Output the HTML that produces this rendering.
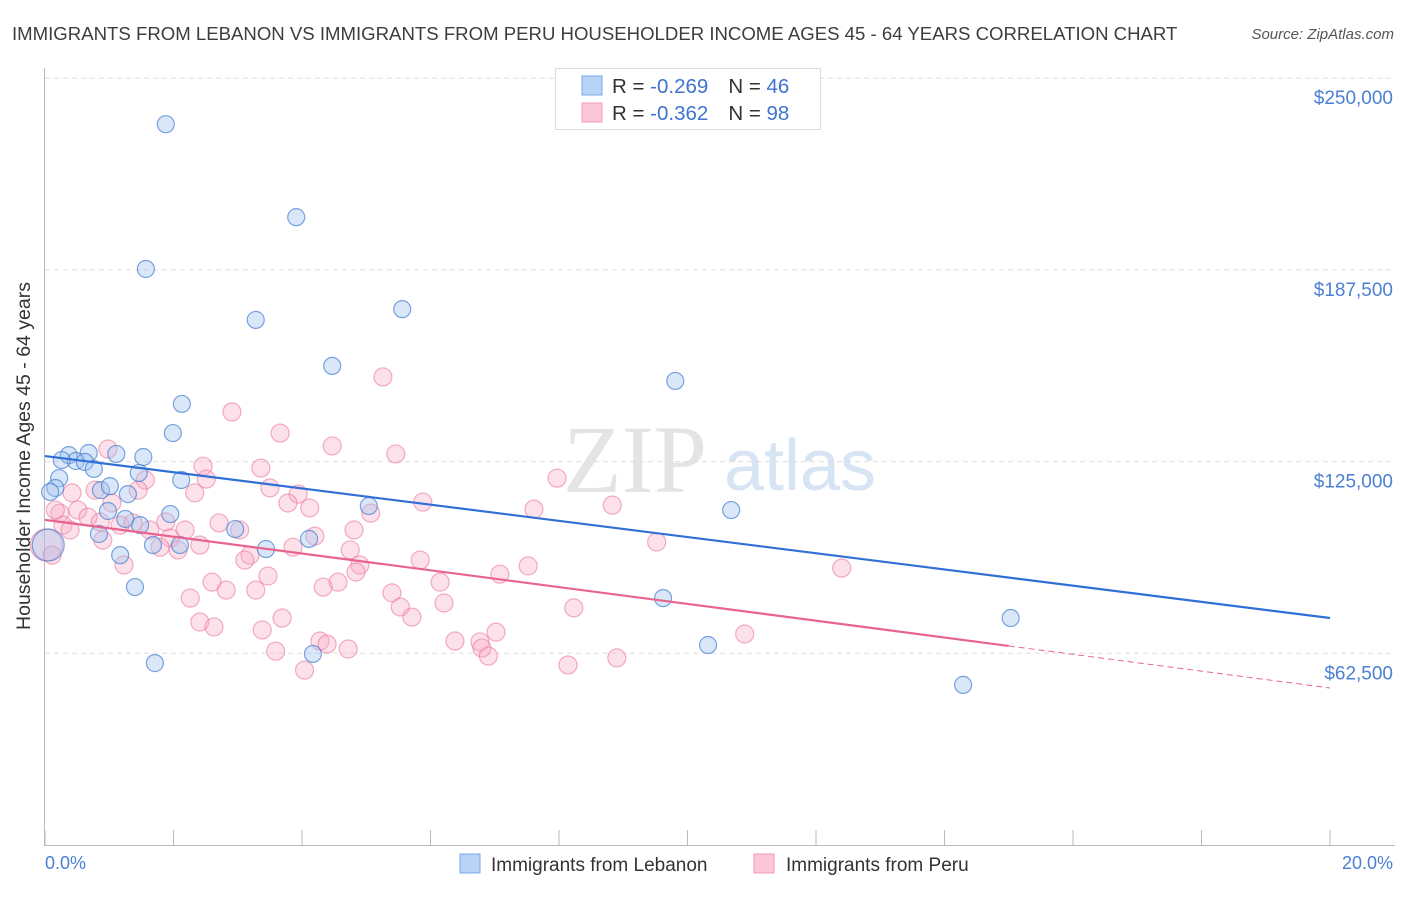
<!DOCTYPE html>
<html><head><meta charset="utf-8"><style>
body{margin:0;background:#fff;width:1406px;height:892px;overflow:hidden;font-family:"Liberation Sans",sans-serif}
</style></head><body>
<svg id="c" width="1406" height="892" xmlns="http://www.w3.org/2000/svg">
<text x="12" y="40" font-size="18.6" fill="#3d3d3d">IMMIGRANTS FROM LEBANON VS IMMIGRANTS FROM PERU HOUSEHOLDER INCOME AGES 45 - 64 YEARS CORRELATION CHART</text>
<text x="1394" y="39" font-size="15" fill="#555" font-style="italic" text-anchor="end">Source: ZipAtlas.com</text>
<g>
<text x="635" y="492" font-family="Liberation Serif,serif" font-size="96" fill="#e4e4e4" text-anchor="middle">ZIP</text>
<text x="800" y="490" font-size="72" fill="#d6e4f4" text-anchor="middle">atlas</text>
</g>
<g id="grid"></g><g id="axes"></g><g id="pts"></g><g id="lines"></g>
<text x="30" y="456" font-size="19.5" fill="#333" text-anchor="middle" transform="rotate(-90 30 456)">Householder Income Ages 45 - 64 years</text>
<text x="45" y="869" font-size="18" fill="#4a7fd4">0.0%</text>
<text x="1393" y="869" font-size="18" fill="#4a7fd4" text-anchor="end">20.0%</text>
<g>
<rect x="555.5" y="68.5" width="265" height="61" fill="#fff" stroke="#ddd"/>
<rect x="582" y="76" width="20" height="19" fill="#b8d3f5" stroke="#7aa7e6"/>
<rect x="582" y="103" width="20" height="19" fill="#fcc8d8" stroke="#f09ab5"/>
<text x="612" y="93" font-size="20.5" fill="#333">R = <tspan fill="#3d74d0">-0.269</tspan><tspan dx="20">N = </tspan><tspan fill="#3d74d0">46</tspan></text>
<text x="612" y="120" font-size="20.5" fill="#333">R = <tspan fill="#3d74d0">-0.362</tspan><tspan dx="20">N = </tspan><tspan fill="#3d74d0">98</tspan></text>
</g>
<g>
<rect x="460" y="854" width="20" height="19" fill="#b8d3f5" stroke="#7aa7e6"/>
<text x="491" y="871" font-size="19" fill="#333">Immigrants from Lebanon</text>
<rect x="754" y="854" width="20" height="19" fill="#fcc8d8" stroke="#f09ab5"/>
<text x="786" y="871" font-size="19" fill="#333">Immigrants from Peru</text>
</g>
</svg>
<script>
const yTicks=[62500,125000,187500,250000];
const yTickLabels=["$62,500","$125,000","$187,500","$250,000"];
const lebX=[1.88,3.91,1.57,3.28,5.56,4.47,9.81,2.13,1.99,0.37,0.68,0.48,0.62,0.76,1.53,1.11,0.22,0.16,0.08,0.87,1.01,1.29,1.46,2.12,0.98,1.25,0.84,1.95,2.96,5.04,10.68,1.68,2.10,1.17,3.44,4.11,1.40,9.62,15.03,10.32,4.17,1.71,14.29,0.05,0.26,1.48];
const lebY=[235000,204700,187800,171200,174700,156200,151300,143800,134300,127100,127800,125200,124900,122600,126500,127500,119600,116400,115100,115700,117000,114400,121300,119000,108900,106300,101400,107900,103000,110500,109200,97800,97800,94500,96500,99800,84100,80500,74000,65200,62300,59300,52200,97800,125500,104300];
const peruX=[5.26,2.91,3.66,4.47,5.46,0.98,2.46,3.36,7.97,2.51,1.56,1.45,2.33,3.50,3.94,3.78,0.42,0.78,5.88,8.83,4.12,5.07,7.61,0.23,0.51,0.67,0.86,1.17,1.37,1.88,2.71,2.18,3.03,4.81,0.28,4.20,1.95,0.90,9.52,1.79,2.07,3.86,4.75,3.19,3.11,5.84,4.90,7.52,12.40,1.23,4.84,7.08,3.47,4.56,2.60,6.15,2.82,3.28,5.40,4.33,2.26,6.21,8.23,5.53,3.69,2.41,5.71,2.63,3.38,7.02,10.89,4.28,6.77,6.38,4.39,6.80,4.72,3.59,8.90,6.90,4.04,8.14,0.02,0.11,0.16,0.39,1.63,1.04,2.41];
const peruY=[152600,141200,134300,130100,127500,129100,123500,122900,119600,119300,119000,115700,114800,116400,114400,111500,114800,115700,111800,110800,109900,108200,109500,108200,109200,106900,105300,104300,105000,105300,105000,102700,102700,102700,104300,100700,100100,99400,98800,97100,96200,97100,96200,94500,92900,92900,91300,91000,90300,91300,89000,88300,87700,85700,85700,85700,83100,83100,82200,84100,80500,78900,77300,77600,74000,72700,74300,71100,70100,69400,68800,66500,66200,66500,65500,64200,63900,63200,61000,61600,57000,58700,97800,94500,109200,102700,102700,111500,97800];
const lebTrend=[126800,74000];
const peruTrend=[106000,64900,51200];
const peruSolidEnd=15.0;
const X=v=>45+v/20*1285, Y=v=>845-v/62500*191.7;
const NS="http://www.w3.org/2000/svg";
function mk(p,t,a){const e=document.createElementNS(NS,t);for(const k in a)e.setAttribute(k,a[k]);p.appendChild(e);return e;}
const grid=document.getElementById('grid'),axes=document.getElementById('axes'),pts=document.getElementById('pts'),lines=document.getElementById('lines');
yTicks.forEach((v,i)=>{
 const l=mk(grid,'line',{x1:45,x2:1395,y1:Y(v),y2:Y(v),stroke:'#ddd','stroke-dasharray':'5,4'});
 
 
 const t=mk(grid,'text',{x:1393,y:Y(v)+26,'font-size':19,fill:'#4a7fd4','text-anchor':'end'});
 t.textContent=yTickLabels[i];
 
 
});
const ya=mk(axes,'line',{x1:44.5,x2:44.5,y1:68,y2:845,stroke:'#bbb'});


const xa=mk(axes,'line',{x1:44,x2:1395,y1:845.5,y2:845.5,stroke:'#bbb'});


for(let i=0;i<=10;i++){const t=mk(axes,'line',{x1:X(i*2),x2:X(i*2),y1:830,y2:845,stroke:'#bbb'});
 
 }
peruX.forEach((x,i)=>{const c=mk(pts,'circle',{cx:X(x),cy:Y(peruY[i]),r:(x<0.06?16:9),fill:'rgba(248,170,195,0.35)',stroke:'rgba(235,120,155,0.6)','stroke-width':1.2});
 
 });
lebX.forEach((x,i)=>{const c=mk(pts,'circle',{cx:X(x),cy:Y(lebY[i]),r:(x<0.06?16:8.5),fill:'rgba(160,195,240,0.4)',stroke:'rgba(70,125,210,0.7)','stroke-width':1.2});
 
 });
const bl=mk(lines,'line',{x1:X(0),y1:Y(lebTrend[0]),x2:X(20),y2:Y(lebTrend[1]),stroke:'#2f6fd6','stroke-width':2.2});


const pl=mk(lines,'line',{x1:X(0),y1:Y(peruTrend[0]),x2:X(peruSolidEnd),y2:Y(peruTrend[1]),stroke:'#e8648f','stroke-width':2.2});


const pd=mk(lines,'line',{x1:X(peruSolidEnd),y1:Y(peruTrend[1]),x2:X(20),y2:Y(peruTrend[2]),stroke:'#e8648f','stroke-width':1,'stroke-dasharray':'6,4'});


</script>
</body></html>
